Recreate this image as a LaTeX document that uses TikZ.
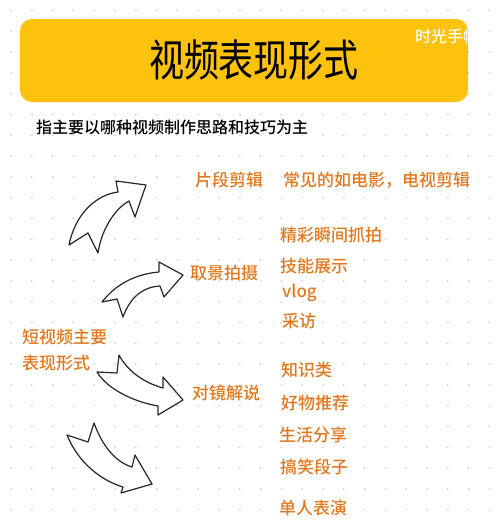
\documentclass[tikz,border=0pt]{standalone}
\usepackage{fontspec}
\setmainfont{Noto Sans CJK SC}[BoldFont={Noto Sans CJK SC Medium}]
\definecolor{bannerYellow}{HTML}{FDC20C}
\definecolor{labelOrange}{HTML}{E2781E}
\definecolor{dotGray}{HTML}{D2D2D2}
\begin{document}
\begin{tikzpicture}[x=1pt,y=-1pt,
  label/.style={text=labelOrange,font=\fontsize{17}{26}\selectfont\bfseries,anchor=west,inner sep=0pt},
  bigarrow/.style={draw=black!85,fill=white,line width=1.2pt,line join=round}]
\useasboundingbox (0,0) rectangle (500,523);
% dotted paper
\foreach \i in {0,...,23}
  \foreach \j in {0,...,24}
    \fill[dotGray] (11+20.8*\i,10.5+20.8*\j) circle (1pt);
% banner
\node[fill=bannerYellow,rounded corners=12pt,minimum width=448pt,minimum height=83pt] (banner) at (244,60.5) {};
\node (title) at (254,60) {\scalebox{1}[1.25]{\fontsize{35}{35}\selectfont 视频表现形式}};
\node[text=white,font=\fontsize{16}{16}\selectfont\bfseries] (mark) at (447,36) {时光手帐};
\node[anchor=west,inner sep=0pt,font=\fontsize{16}{16}\selectfont\bfseries] (intro) at (36,127) {指主要以哪种视频制作思路和技巧为主};
% root
\node[label,align=left] (root) at (22,350) {短视频主要\\表现形式};
% branches
\node[label] (cut) at (195,180) {片段剪辑};
\node[label] (cutnote) at (283,180) {常见的如电影，电视剪辑};
\node[label] (shoot) at (190,273) {取景拍摄};
\node[label] (s1) at (280,235) {精彩瞬间抓拍};
\node[label] (s2) at (280,266) {技能展示};
\node[label] (s3) at (282,293) {vlog};
\node[label] (s4) at (282,321) {采访};
\node[label] (talk) at (192,393) {对镜解说};
\node[label] (t1) at (281,370) {知识类};
\node[label] (t2) at (281,403) {好物推荐};
\node[label] (t3) at (279,435) {生活分享};
\node[label] (t4) at (280,467) {搞笑段子};
\node[label] (t5) at (279,508) {单人表演};
% arrows
\draw[bigarrow] (69,245) .. controls (75,215) and (95,195) .. (118,192) -- (116,181) -- (146,185)
  -- (135,217) -- (129,201) .. controls (113,210) and (101,232) .. (98,253) -- (88,233) -- cycle;
\draw[bigarrow] (102,302) .. controls (115,285) and (135,274) .. (159,272) -- (159,262) -- (183,275)
  -- (164,297) -- (160,286) .. controls (142,287) and (130,298) .. (123,317) -- (117,299) -- cycle;
\draw[bigarrow] (97,372) -- (117,373) -- (119,355) .. controls (128,372) and (145,383) .. (163,388)
  -- (163,377) -- (183,400) -- (158,415) -- (158,406) .. controls (135,402) and (108,390) .. (97,372) -- cycle;
\draw[bigarrow] (67,435) -- (88,442) -- (94,423) .. controls (102,445) and (115,462) .. (132,467)
  -- (135,455) -- (152,484) -- (121,493) -- (123,487) .. controls (100,480) and (78,462) .. (67,435) -- cycle;
\end{tikzpicture}
\end{document}
